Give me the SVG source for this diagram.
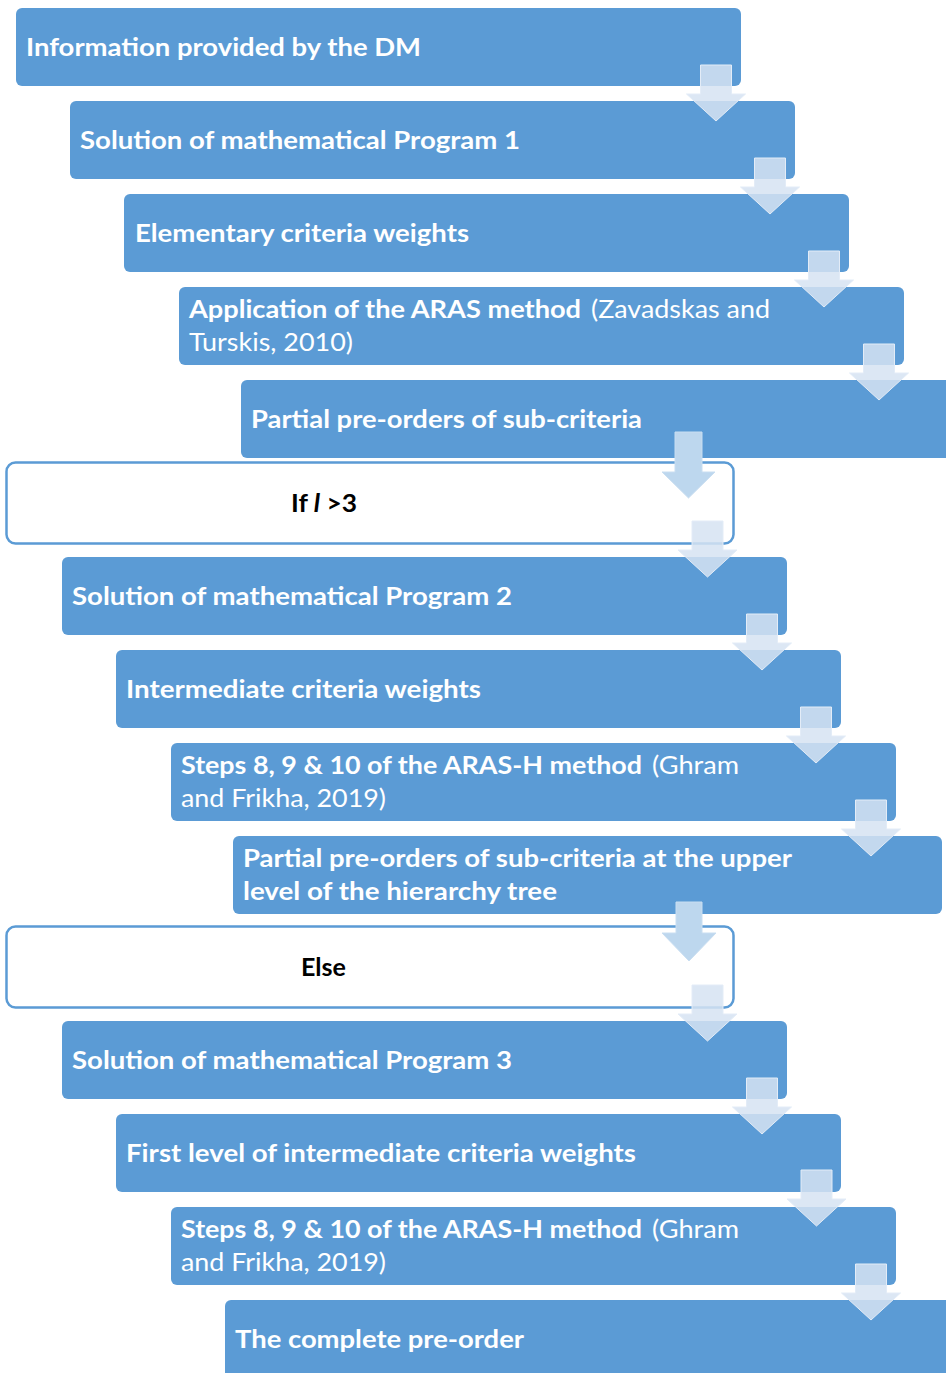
<svg xmlns="http://www.w3.org/2000/svg" width="946" height="1373" viewBox="0 0 946 1373">
<style>
.box{fill:#5b9bd5}
.cond{fill:#ffffff;stroke:#5b9bd5;stroke-width:2.5}
.t{font-family:Lato,"Open Sans","Liberation Sans",sans-serif;font-size:25px;fill:#ffffff}
.b{font-weight:bold}
.r{font-weight:normal}
.k{font-family:Lato,"Open Sans","Liberation Sans",sans-serif;font-size:25px;font-weight:bold;fill:#000000}
.arr{fill:#d6e3f2;fill-opacity:0.85;stroke:#e3ecf7;stroke-width:1}
.arr2{fill:#bdd7ee;stroke:#c9def1;stroke-width:1}
</style>
<rect width="946" height="1373" fill="#ffffff"/>
<g id="n1"><rect class="box" x="16" y="8" width="725" height="78" rx="6"/><text class="t b" x="26" y="56" textLength="395" lengthAdjust="spacingAndGlyphs">Information provided by the DM</text></g>
<g id="n2"><rect class="box" x="70" y="101" width="725" height="78" rx="6"/><text class="t b" x="80" y="149" textLength="440" lengthAdjust="spacingAndGlyphs">Solution of mathematical Program 1</text></g>
<g id="n3"><rect class="box" x="124" y="194" width="725" height="78" rx="6"/><text class="t b" x="135" y="242" textLength="334" lengthAdjust="spacingAndGlyphs">Elementary criteria weights</text></g>
<g id="n4"><rect class="box" x="179" y="287" width="725" height="78" rx="6"/><text class="t b" x="189" y="318" textLength="392" lengthAdjust="spacingAndGlyphs">Application of the ARAS method</text><text class="t r" x="591" y="318" textLength="179" lengthAdjust="spacingAndGlyphs">(Zavadskas and</text><text class="t r" x="189" y="351" textLength="164" lengthAdjust="spacingAndGlyphs">Turskis, 2010)</text></g>
<g id="n5"><rect class="box" x="241" y="380" width="720" height="78" rx="6"/><text class="t b" x="251" y="428" textLength="391" lengthAdjust="spacingAndGlyphs">Partial pre-orders of sub-criteria</text></g>
<g id="n6"><rect class="cond" x="6.5" y="462.5" width="727" height="81" rx="9"/><text class="k" x="291" y="512" textLength="66" lengthAdjust="spacingAndGlyphs">If <tspan font-style="italic">l</tspan> &gt;3</text></g>
<g id="n7"><rect class="box" x="62" y="557" width="725" height="78" rx="6"/><text class="t b" x="72" y="605" textLength="440" lengthAdjust="spacingAndGlyphs">Solution of mathematical Program 2</text></g>
<g id="n8"><rect class="box" x="116" y="650" width="725" height="78" rx="6"/><text class="t b" x="126" y="698" textLength="355" lengthAdjust="spacingAndGlyphs">Intermediate criteria weights</text></g>
<g id="n9"><rect class="box" x="171" y="743" width="725" height="78" rx="6"/><text class="t b" x="181" y="774" textLength="461" lengthAdjust="spacingAndGlyphs">Steps 8, 9 &amp; 10 of the ARAS-H method</text><text class="t r" x="652" y="774" textLength="87" lengthAdjust="spacingAndGlyphs">(Ghram</text><text class="t r" x="181" y="807" textLength="205" lengthAdjust="spacingAndGlyphs">and Frikha, 2019)</text></g>
<g id="n10"><rect class="box" x="233" y="836" width="709" height="78" rx="6"/><text class="t b" x="243" y="867" textLength="549" lengthAdjust="spacingAndGlyphs">Partial pre-orders of sub-criteria at the upper</text><text class="t b" x="243" y="900" textLength="314" lengthAdjust="spacingAndGlyphs">level of the hierarchy tree</text></g>
<g id="n11"><rect class="cond" x="6.5" y="926.5" width="727" height="81" rx="9"/><text class="k" x="301" y="976" textLength="45" lengthAdjust="spacingAndGlyphs">Else</text></g>
<g id="n12"><rect class="box" x="62" y="1021" width="725" height="78" rx="6"/><text class="t b" x="72" y="1069" textLength="440" lengthAdjust="spacingAndGlyphs">Solution of mathematical Program 3</text></g>
<g id="n13"><rect class="box" x="116" y="1114" width="725" height="78" rx="6"/><text class="t b" x="126" y="1162" textLength="510" lengthAdjust="spacingAndGlyphs">First level of intermediate criteria weights</text></g>
<g id="n14"><rect class="box" x="171" y="1207" width="725" height="78" rx="6"/><text class="t b" x="181" y="1238" textLength="461" lengthAdjust="spacingAndGlyphs">Steps 8, 9 &amp; 10 of the ARAS-H method</text><text class="t r" x="652" y="1238" textLength="87" lengthAdjust="spacingAndGlyphs">(Ghram</text><text class="t r" x="181" y="1271" textLength="205" lengthAdjust="spacingAndGlyphs">and Frikha, 2019)</text></g>
<g id="n15"><rect class="box" x="225" y="1300" width="740" height="90" rx="6"/><text class="t b" x="235" y="1348" textLength="289" lengthAdjust="spacingAndGlyphs">The complete pre-order</text></g>
<g id="connectors">
<polygon class="arr" points="700.5,65 731.5,65 731.5,94 745.5,94 716,121 686.5,94 700.5,94"/>
<polygon class="arr" points="754.5,158 785.5,158 785.5,187 799.5,187 770,214 740.5,187 754.5,187"/>
<polygon class="arr" points="808.5,251 839.5,251 839.5,280 853.5,280 824,307 794.5,280 808.5,280"/>
<polygon class="arr" points="863.5,344 894.5,344 894.5,373 908.5,373 879,400 849.5,373 863.5,373"/>
<polygon class="arr2" points="675,432 702,432 702,472 715,472 688.5,498 662,472 675,472"/>
<polygon class="arr" points="692,521 723,521 723,550 737,550 707.5,577 678,550 692,550"/>
<polygon class="arr" points="746.5,614 777.5,614 777.5,643 791.5,643 762,670 732.5,643 746.5,643"/>
<polygon class="arr" points="800.5,707 831.5,707 831.5,736 845.5,736 816,763 786.5,736 800.5,736"/>
<polygon class="arr" points="855.5,800 886.5,800 886.5,829 900.5,829 871,856 841.5,829 855.5,829"/>
<polygon class="arr2" points="676,902 702,902 702,933 716,933 689,961 662,933 676,933"/>
<polygon class="arr" points="692,985 723,985 723,1014 737,1014 707.5,1041 678,1014 692,1014"/>
<polygon class="arr" points="746.5,1078 777.5,1078 777.5,1107 791.5,1107 762,1134 732.5,1107 746.5,1107"/>
<polygon class="arr" points="801,1170 832,1170 832,1199 846,1199 816.5,1226 787,1199 801,1199"/>
<polygon class="arr" points="855.5,1264 886.5,1264 886.5,1293 900.5,1293 871,1320 841.5,1293 855.5,1293"/>
</g>
</svg>
